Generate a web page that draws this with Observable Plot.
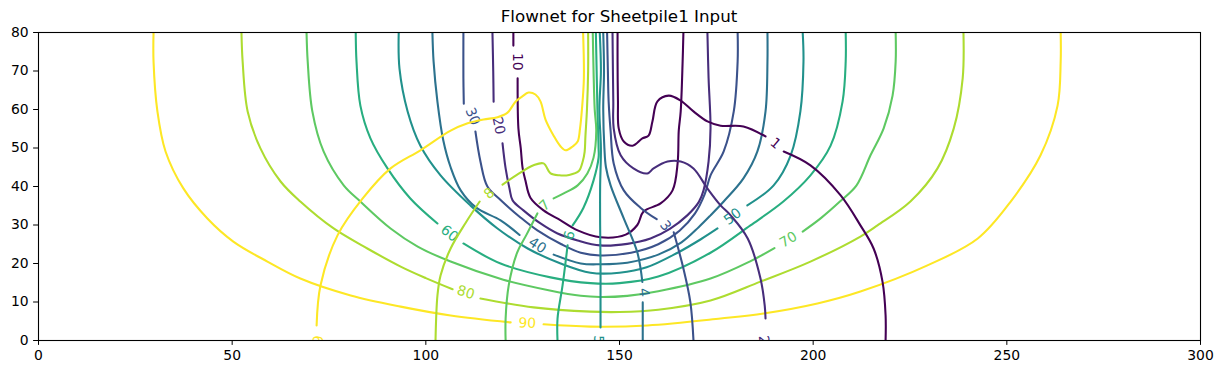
<!DOCTYPE html>
<html><head><meta charset="utf-8">
<script src="https://cdn.jsdelivr.net/npm/d3@7"></script>
<script src="https://cdn.jsdelivr.net/npm/@observablehq/plot@0.6"></script>
<style>
body{margin:0;background:#fff;}
#wrap{position:relative;width:1222px;height:374px;}
#title{position:absolute;left:38px;width:1162px;top:8px;height:17px;line-height:17px;text-align:center;font-family:"DejaVu Sans";font-size:16.7px;color:#000;white-space:nowrap;}
svg{display:block;}
</style>
</head><body><div id="wrap"><div id="chart"></div><div id="title"></div></div>
<script>
const title = "Flownet for Sheetpile1 Input";
const xTicks = [0, 50, 100, 150, 200, 250, 300];
const yTicks = [0, 10, 20, 30, 40, 50, 60, 70, 80];

// equipotential contours (levels 10..90); null = gap where the inline label sits
const headLevels = [10, 20, 30, 40, 50, 60, 70, 80, 90];
const head10 = [[122.6,80],[122.6,76.6],null,[123.7,68.1],[123.9,55.1],[124.5,50],[125,44.7],[125.7,41.6],[127,37.1],[130.4,33.8],[134.8,31.2],[139.2,28.6],[145.1,26.8],[151.6,27.5],[154.6,30],[156.2,33.5],[160.6,35.6],[163.7,39],[165,46],[165.3,54.5],[165.8,59.5],[166.3,72.5],[166.5,80]];
const head20 = [[117.2,80],[117.4,70],[117.5,62],null,[119.8,51.2],[120.6,44.7],[121.6,39.5],[122.4,36.4],[125.2,33.8],[129.6,30.4],[134,27.8],[139.2,26],[145,24.7],[152,25.1],[158,26.5],[163,29],[167.5,32.5],[170.5,36],[171.7,39],[173,46.5],[173.5,55.1],[173,68.1],[172.7,80]];
const head30 = [[109.7,80],[109.7,68.1],[109.8,61.5],null,[112.8,54.3],[114.1,46.5],[115.9,40],[119.3,36.5],[124.5,31.9],[128.8,28.6],[135,25],[140,22.8],[145,22.1],[153,22.8],[160,25],[165.5,28.5],[169.5,33],[172,38],[173.5,42.9],[176.9,49.1],[179.5,59.5],[180.5,72.5],[180.5,80]];
const head40 = [[101.7,80],[102,72.5],[103,62],[104.5,52],[106.4,45],[109,39],[113,34.5],[119.3,31.2],[124.2,27.4],null,[133,22.3],[140,20],[145,19.8],[152,20.2],[160,22.3],[166,25.5],[170.5,29.5],[173.5,32.5],[176.9,36.1],[182,42.1],[185.6,49.1],[187.7,59.5],[188.2,72.5],[188.2,80]];
const head50 = [[93,80],[93.2,70.6],[95.3,59.5],[98.6,50.6],[103.8,42.9],[111.5,35.1],[118.5,29.1],[126.3,23.9],[134.8,20],[142.5,17.6],[150,17.6],[157,19],[165,22.8],[171,26.3],[175.3,29.1],null,[183,35.1],[189.8,40.3],[194.2,48.1],[196.7,59.5],[197.5,72.5],[197.3,80]];
const head60 = [[81.9,80],[82.1,72.5],[83.1,61],[85.7,52.5],[90.1,44.7],[96,36.9],[103,30.4],null,[109.7,25.2],[119.3,20],[132.2,16.4],[142.5,14.9],[150,14.9],[160,16.6],[173.5,22.8],[183.8,29.9],[192.3,36.1],[199.3,42.9],[204.5,50.6],[207.6,62.1],[208.4,72.5],[208.4,80]];
const head70 = [[69.2,80],[69.5,72.5],[70.7,59.5],[73.6,49.1],[78.8,40.3],[83.1,36.1],[90.9,29.1],[97.9,24.4],[106.4,20.5],[120,15.8],[132,13],[140,11.6],[145,11.3],[152,11.6],[160,12.8],[173.5,16.1],[183.6,20.5],[190,24],null,[197.3,28.3],[202,31.8],[206.9,36.1],[211.2,40.3],[214.8,48.1],[218.2,55.1],[220.5,63.6],[221.3,72.5],[221.3,80]];
const head80 = [[52.4,80],[52.7,72.5],[54,59.5],[57.3,49.9],[62.5,41.3],[67.6,36.1],[76.2,29.1],[84.9,23.9],[93.5,19.2],[100,16.2],[106.9,13.3],null,[114.1,10.9],[127.8,8.6],[142.5,7.5],[150,7.4],[160,8],[173.5,10.4],[186.4,15.3],[199.3,20.5],[212.2,27],[216.6,29.9],[225.1,36.1],[232.1,44.7],[236.3,55.1],[238.6,68.1],[238.8,80]];
const head90 = [[29.7,80],[29.7,72.5],[30.7,59.5],[32.8,49.1],[37.4,39.5],[43.6,31.7],[50.3,25.7],[59.1,20.5],[67.6,16.1],[80.6,11.7],[93.5,8.8],[106.4,6.5],[121.9,4.7],null,[130.4,4.2],[142.5,3.6],[157.2,3.9],[176.1,5.7],[187.2,7],[201.1,9.6],[212.2,12.7],[229.5,19.5],[242.5,26.5],[251,36.1],[258.7,48.1],[263.1,61],[263.9,72.5],[263.9,80]];
const headLines = [head10, head20, head30, head40, head50, head60, head70, head80, head90];
const headLabelX = [123.7, 118.8, 112.1, 128.8, 179.2, 106.1, 193.6, 110.3, 126.2];
const headLabelY = [72.4, 55.8, 58.2, 24.7, 32.2, 27.8, 26.2, 12.5, 4.5];
const headLabelAngle = [90, 78, 68, 34, -37, 38, -30, 17, 3];

// stream-function contours (levels 1..9)
const streamLevels = [1, 2, 3, 4, 5, 6, 7, 8, 9];
const stream1 = [[149.5,80],[149.5,72.5],[149.6,62],[149.8,55.1],[151.1,51.7],[153.4,50.6],[155.9,52.5],[157.5,53.2],[158.5,56.9],[159.8,62.1],[162.7,63.6],[165.8,62.3],[169.1,59.5],[172.7,56.9],[176.1,55.8],[182,55.6],[187.7,53],null,[192.4,49.1],[199.3,45.5],[207.1,37.7],[212.2,29.9],[215.6,23.9],[217.9,15.3],[218.7,6.5],[218.7,0]];
const stream2 = [[148.2,80],[148.3,70],[148.4,62],[148.5,55.1],[150.3,48.1],[153.6,44.7],[157.2,43.4],[158.8,44.7],[162.4,46.5],[165.8,46.5],[169.1,44.7],[172.7,39.5],[176.1,35.1],[178.7,32.5],[183.1,26.5],[186.4,16.1],[187.5,9],[187.7,5.7]];
const stream3 = [[146.8,80],[147,70],[147.2,62],[147.7,54.5],[148.5,46],[151.1,39],[155.4,34.5],[159.6,31.5],null,[164,28.1],[166.5,18.7],[168.3,9.9],[169.1,0]];
const stream4 = [[145.8,80],[146,70],[145.8,60],[146.1,50],[146.5,45],[147.7,40.3],[151.1,31.7],[154.6,22.9],[155.9,15.2],null,[156,9.9],[156,0]];
const stream5 = [[144.9,80],[145.2,70],[144.8,60],[145.2,50],[145,40],[145,30],[145.1,20],[145.1,10],[145.1,3.4]];
const stream6 = [[143.9,80],[144.1,70],[144.3,60],[144.6,50],[144.6,47.5],[143.3,41.6],[140.7,34.5],[137.9,29.9],null,[136.6,24.7],[135.3,14.3],[134,5.7],[134,0]];
const stream7 = [[143.1,80],[143.3,70],[143.6,60],[144,54.5],[143.3,47.5],[141.7,43.4],[139.2,40.3],[135.6,38.2],[133,36.9],null,[128.8,33],[126,27.5],[123.6,22.9],[121.4,14.3],[120.6,5.7],[120.6,0]];
const stream8 = [[141.9,80],[141.9,70],[141.6,60],[141.2,53],[141,49],[140.5,46.5],[139.5,44],[137,43],[134.5,42.9],[132.2,43.4],[130.4,46],[127.8,45.5],[123.5,43],[119.8,40.5],null,[113.9,36.1],[110.3,30.6],[106.4,23.9],[103.8,16.9],[103,11.7],[102.5,0]];
const stream9 = [[140.6,80],[140.8,68],[140.3,60],[139.8,55],[139.2,51.7],[137.9,50.4],[136.1,49.4],[134.8,50.4],[133,53.2],[130.9,57.4],[129.6,62.1],[128.3,63.9],[126.5,64.4],[124.9,63.4],[123.2,62.1],[121.1,59.2],[118.5,58],[114.9,57.4],[110.8,56.4],[106.4,54.5],[98.6,49.4],[90.9,44.7],[83.7,36.9],[77.2,27.3],[72.8,14.3],[71.8,3.9]];
const streamLines = [stream1, stream2, stream3, stream4, stream5, stream6, stream7, stream8, stream9];
const streamLabelX = [190.3, 187.2, 161.9, 156.3, 144.5, 137.1, 130.7, 116.4, 72.3];
const streamLabelY = [51.2, 0.2, 29.8, 12.5, 0.2, 27.3, 35.1, 38.2, 0.2];
const streamLabelAngle = [40, 83, 52, 84, 90, -76, -43, -40, -87];

const toRows = pts => pts.map(p => p ? {x: p[0], y: p[1]} : {x: NaN, y: NaN});
const viridis = (v, levels) => d3.interpolateViridis((v - levels[0]) / (levels[levels.length - 1] - levels[0]));

const marks = [];
function addSet(lines, levels, lx, ly, la) {
  lines.forEach((pts, i) => {
    marks.push(Plot.line(toRows(pts), {x: "x", y: "y", stroke: viridis(levels[i], levels), strokeWidth: 2.08, curve: "catmull-rom", clip: true}));
  });
  marks.push(Plot.text(levels.map((v, i) => i), {
    x: i => lx[i], y: i => ly[i], text: i => String(levels[i]), rotate: i => la[i],
    fill: i => viridis(levels[i], levels), fontSize: 13.9, clip: true
  }));
}
addSet(headLines, headLevels, headLabelX, headLabelY, headLabelAngle);
addSet(streamLines, streamLevels, streamLabelX, streamLabelY, streamLabelAngle);
marks.push(Plot.frame({stroke: "black", strokeWidth: 1.1}));

const chart = Plot.plot({
  width: 1222, height: 374,
  marginTop: 32, marginBottom: 34, marginLeft: 38, marginRight: 22,
  style: {fontFamily: "DejaVu Sans", fontSize: "13.9px", background: "white", color: "black"},
  x: {domain: [0, 300], ticks: xTicks, tickSize: 4.9, tickPadding: 4.9, label: null},
  y: {domain: [0, 80], ticks: yTicks, tickSize: 4.9, tickPadding: 4.9, label: null},
  color: {type: "identity"},
  marks
});
document.getElementById("chart").appendChild(chart);
document.getElementById("title").textContent = title;
</script>
</body></html>
